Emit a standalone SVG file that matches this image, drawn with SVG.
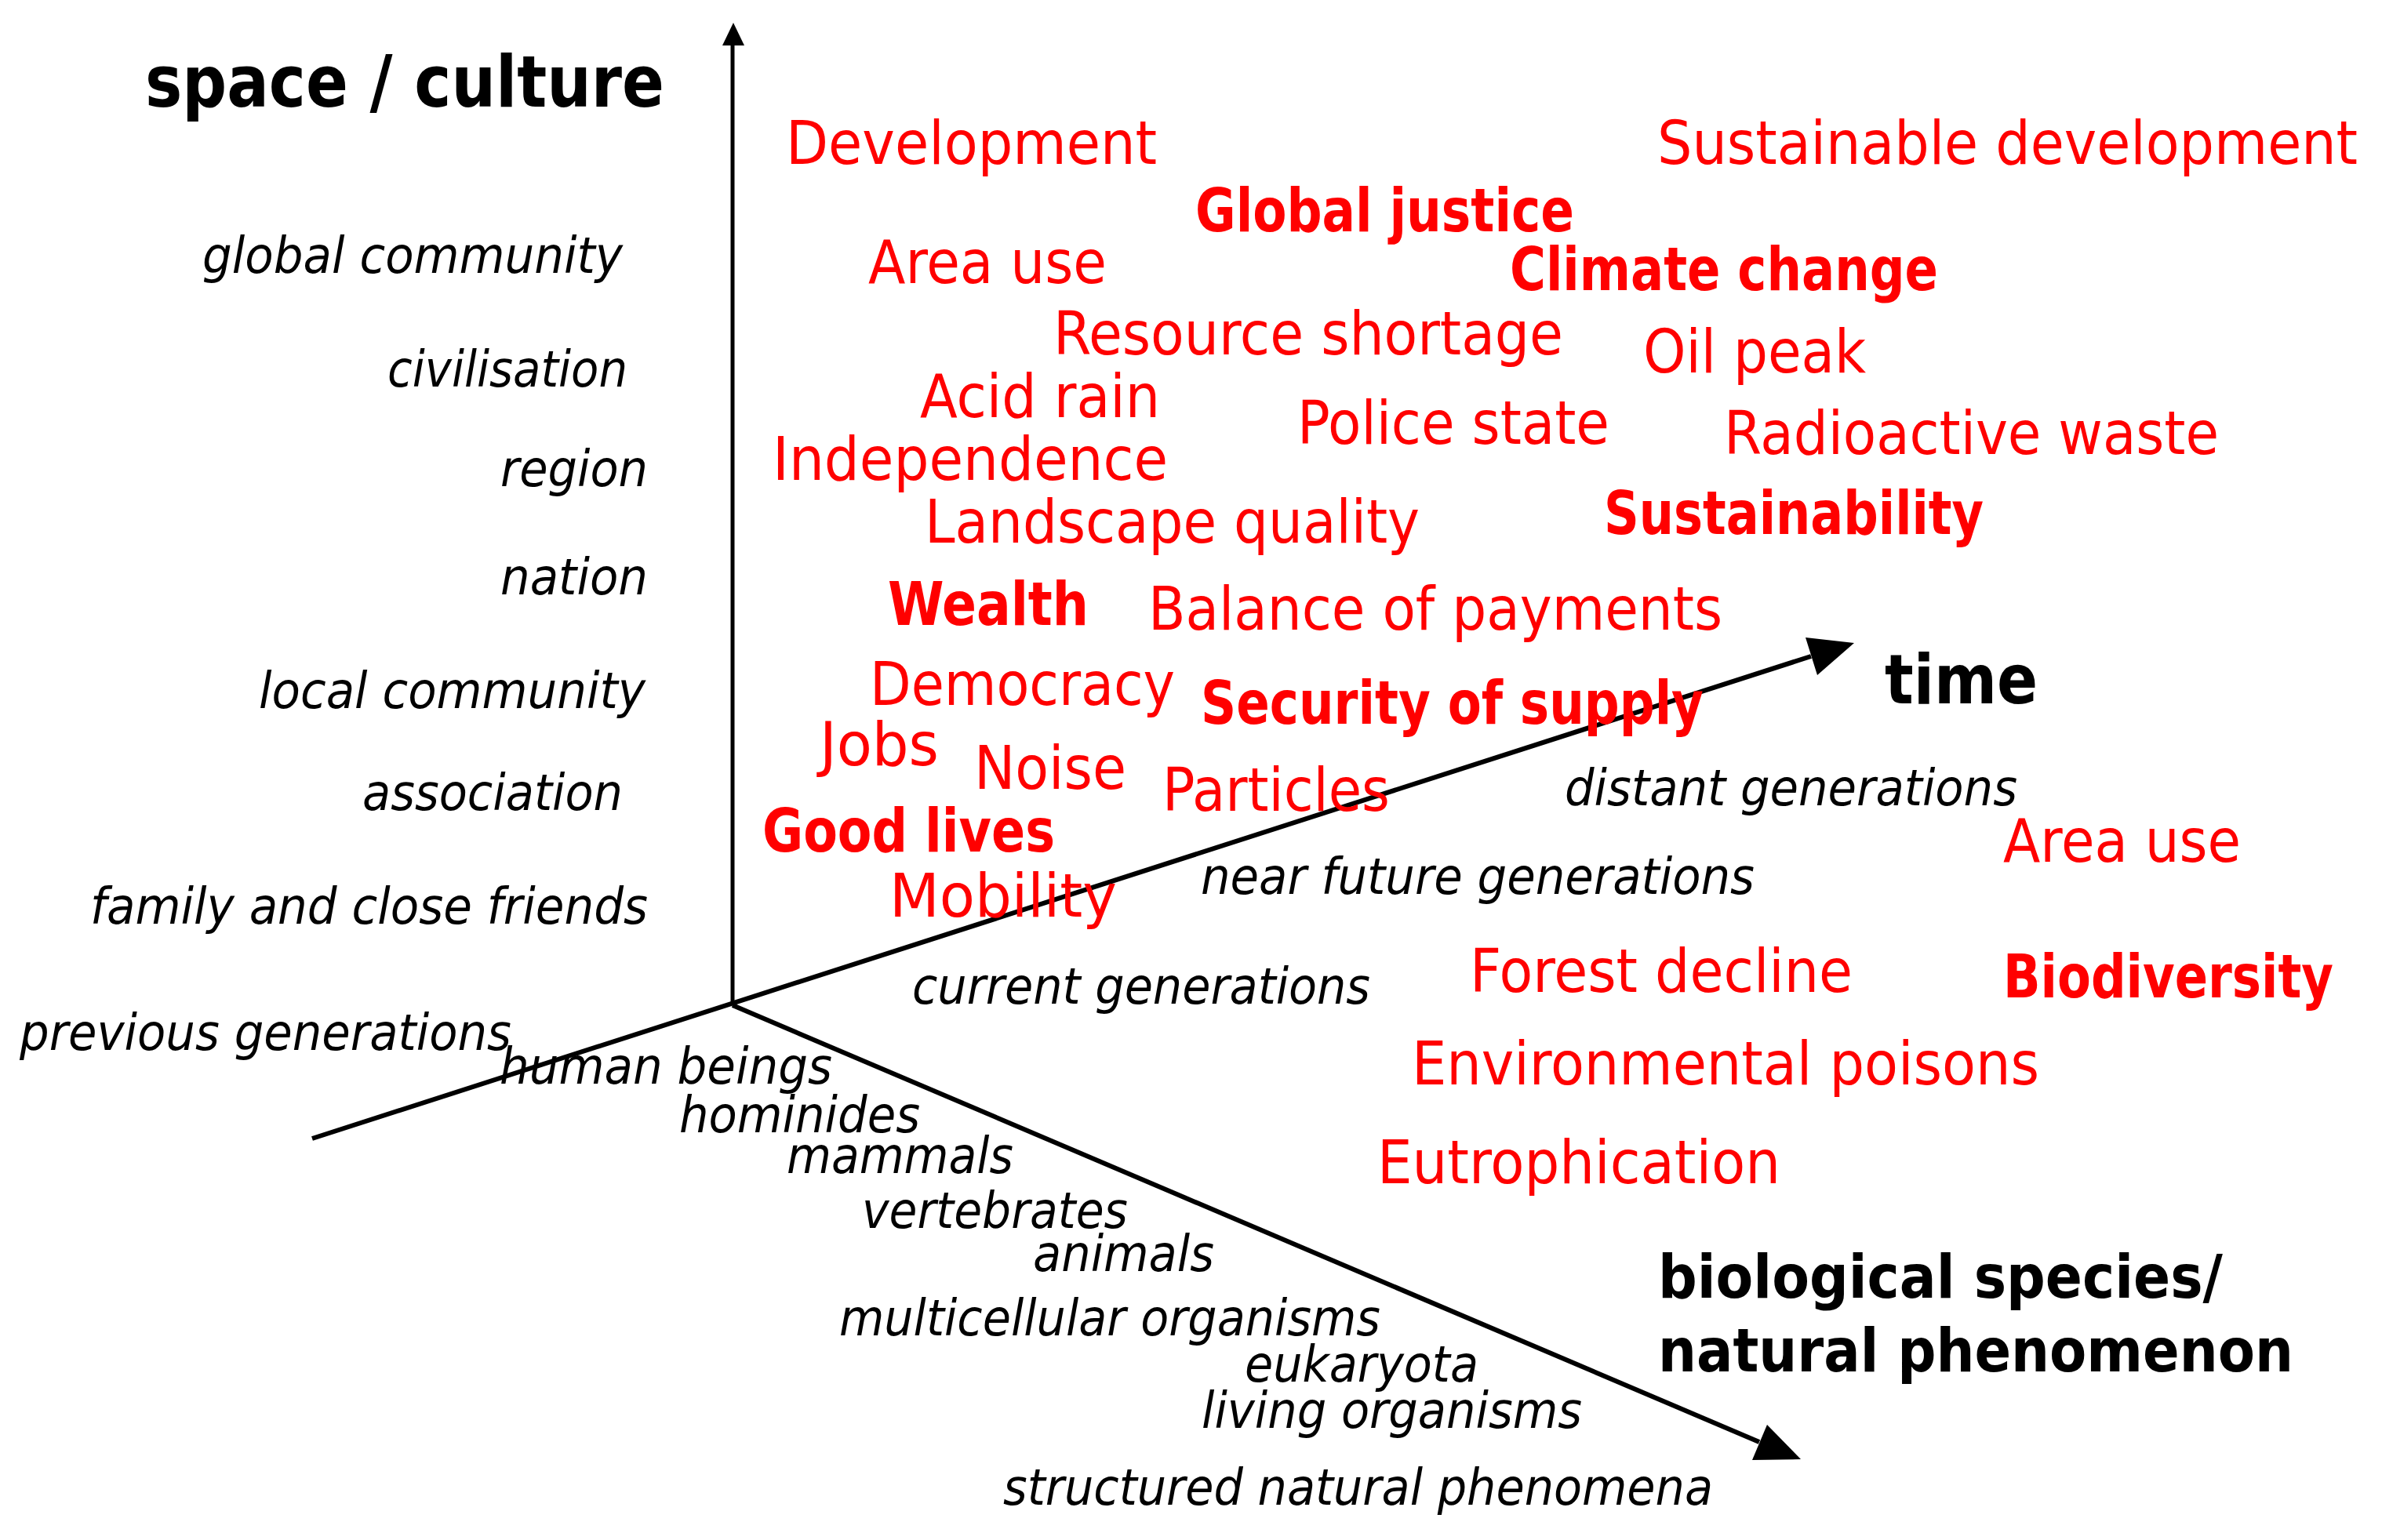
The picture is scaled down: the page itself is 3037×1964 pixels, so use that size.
<svg xmlns="http://www.w3.org/2000/svg" width="3037" height="1964" viewBox="0 0 3037 1964">
<style>
text { font-family: "DejaVu Sans", Verdana, sans-serif; font-stretch: condensed; }
.ax { font-weight: bold; fill: #000; }
.i { font-style: italic; font-size: 64px; fill: #000; }
.r { font-size: 76px; fill: #ff0000; }
.rb { font-size: 76px; fill: #ff0000; font-weight: bold; }
.axis { stroke: #000; stroke-width: 6; fill: none; }
.head { fill: #000; stroke: none; }
</style>
<rect width="3037" height="1964" fill="#fff"/>
<g id="connectors">
  <line class="axis" x1="934" y1="1282" x2="934" y2="52" style="stroke-width:5"/>
  <polygon class="head" points="935,29 921,58 949,58"/>
  <line class="axis" x1="398" y1="1452" x2="2309" y2="837"/>
  <polygon class="head" points="2364,820 2302,813 2317,861"/>
  <line class="axis" x1="934" y1="1282" x2="2243" y2="1839"/>
  <polygon class="head" points="2296,1861 2253,1817 2234,1862"/>
</g>
<g id="axis-labels">
  <g id="space-culture"><text class="ax" x="185" y="136" font-size="90" textLength="662" lengthAdjust="spacingAndGlyphs">space / culture</text></g>
  <g id="time"><text class="ax" x="2403" y="897" font-size="88" textLength="195" lengthAdjust="spacingAndGlyphs">time</text></g>
  <g id="biological"><text class="ax" x="2114" y="1655" font-size="76" textLength="720" lengthAdjust="spacingAndGlyphs">biological species/</text><text class="ax" x="2114" y="1749" font-size="76" textLength="810" lengthAdjust="spacingAndGlyphs">natural phenomenon</text></g>
</g>
<g id="space-scale">
  <g id="global-community"><text class="i" x="258" y="348" textLength="536" lengthAdjust="spacingAndGlyphs">global community</text></g>
  <g id="civilisation"><text class="i" x="494" y="493" textLength="306" lengthAdjust="spacingAndGlyphs">civilisation</text></g>
  <g id="region"><text class="i" x="638" y="620" textLength="188" lengthAdjust="spacingAndGlyphs">region</text></g>
  <g id="nation"><text class="i" x="638" y="758" textLength="188" lengthAdjust="spacingAndGlyphs">nation</text></g>
  <g id="local-community"><text class="i" x="330" y="903" textLength="493" lengthAdjust="spacingAndGlyphs">local community</text></g>
  <g id="association"><text class="i" x="462" y="1033" textLength="332" lengthAdjust="spacingAndGlyphs">association</text></g>
  <g id="family"><text class="i" x="115" y="1178" textLength="711" lengthAdjust="spacingAndGlyphs">family and close friends</text></g>
</g>
<g id="time-scale">
  <g id="previous-generations"><text class="i" x="25" y="1339" textLength="627" lengthAdjust="spacingAndGlyphs">previous generations</text></g>
  <g id="current-generations"><text class="i" x="1163" y="1280" textLength="584" lengthAdjust="spacingAndGlyphs">current generations</text></g>
  <g id="near-future-generations"><text class="i" x="1531" y="1140" textLength="706" lengthAdjust="spacingAndGlyphs">near future generations</text></g>
  <g id="distant-generations"><text class="i" x="1995" y="1027" textLength="577" lengthAdjust="spacingAndGlyphs">distant generations</text></g>
</g>
<g id="species-scale">
  <g id="human-beings"><text class="i" x="637" y="1382" textLength="424" lengthAdjust="spacingAndGlyphs">human beings</text></g>
  <g id="hominides"><text class="i" x="866" y="1444" textLength="307" lengthAdjust="spacingAndGlyphs">hominides</text></g>
  <g id="mammals"><text class="i" x="1003" y="1496" textLength="289" lengthAdjust="spacingAndGlyphs">mammals</text></g>
  <g id="vertebrates"><text class="i" x="1099" y="1566" textLength="339" lengthAdjust="spacingAndGlyphs">vertebrates</text></g>
  <g id="animals"><text class="i" x="1317" y="1621" textLength="231" lengthAdjust="spacingAndGlyphs">animals</text></g>
  <g id="multicellular"><text class="i" x="1070" y="1703" textLength="690" lengthAdjust="spacingAndGlyphs">multicellular organisms</text></g>
  <g id="eukaryota"><text class="i" x="1587" y="1762" textLength="298" lengthAdjust="spacingAndGlyphs">eukaryota</text></g>
  <g id="living-organisms"><text class="i" x="1532" y="1821" textLength="485" lengthAdjust="spacingAndGlyphs">living organisms</text></g>
  <g id="structured"><text class="i" x="1279" y="1919" textLength="905" lengthAdjust="spacingAndGlyphs">structured natural phenomena</text></g>
</g>
<g id="issues">
  <g id="development"><text class="r" x="1002" y="209" textLength="473" lengthAdjust="spacingAndGlyphs">Development</text></g>
  <g id="sustainable-development"><text class="r" x="2113" y="209" textLength="893" lengthAdjust="spacingAndGlyphs">Sustainable development</text></g>
  <g id="global-justice"><text class="rb" x="1524" y="295" textLength="483" lengthAdjust="spacingAndGlyphs">Global justice</text></g>
  <g id="area-use-1"><text class="r" x="1107" y="361" textLength="304" lengthAdjust="spacingAndGlyphs">Area use</text></g>
  <g id="climate-change"><text class="rb" x="1925" y="370" textLength="546" lengthAdjust="spacingAndGlyphs">Climate change</text></g>
  <g id="resource-shortage"><text class="r" x="1343" y="452" textLength="650" lengthAdjust="spacingAndGlyphs">Resource shortage</text></g>
  <g id="oil-peak"><text class="r" x="2095" y="475" textLength="284" lengthAdjust="spacingAndGlyphs">Oil peak</text></g>
  <g id="acid-rain"><text class="r" x="1173" y="532" textLength="306" lengthAdjust="spacingAndGlyphs">Acid rain</text></g>
  <g id="police-state"><text class="r" x="1654" y="566" textLength="398" lengthAdjust="spacingAndGlyphs">Police state</text></g>
  <g id="radioactive-waste"><text class="r" x="2198" y="579" textLength="631" lengthAdjust="spacingAndGlyphs">Radioactive waste</text></g>
  <g id="independence"><text class="r" x="985" y="612" textLength="504" lengthAdjust="spacingAndGlyphs">Independence</text></g>
  <g id="landscape-quality"><text class="r" x="1179" y="692" textLength="631" lengthAdjust="spacingAndGlyphs">Landscape quality</text></g>
  <g id="sustainability"><text class="rb" x="2045" y="681" textLength="484" lengthAdjust="spacingAndGlyphs">Sustainability</text></g>
  <g id="wealth"><text class="rb" x="1132" y="797" textLength="256" lengthAdjust="spacingAndGlyphs">Wealth</text></g>
  <g id="balance-of-payments"><text class="r" x="1464" y="803" textLength="732" lengthAdjust="spacingAndGlyphs">Balance of payments</text></g>
  <g id="democracy"><text class="r" x="1109" y="899" textLength="389" lengthAdjust="spacingAndGlyphs">Democracy</text></g>
  <g id="security-of-supply"><text class="rb" x="1531" y="923" textLength="641" lengthAdjust="spacingAndGlyphs">Security of supply</text></g>
  <g id="jobs"><text class="r" x="1045" y="976" textLength="152" lengthAdjust="spacingAndGlyphs">Jobs</text></g>
  <g id="noise"><text class="r" x="1242" y="1006" textLength="194" lengthAdjust="spacingAndGlyphs">Noise</text></g>
  <g id="particles"><text class="r" x="1482" y="1034" textLength="290" lengthAdjust="spacingAndGlyphs">Particles</text></g>
  <g id="good-lives"><text class="rb" x="972" y="1086" textLength="373" lengthAdjust="spacingAndGlyphs">Good lives</text></g>
  <g id="mobility"><text class="r" x="1134" y="1169" textLength="290" lengthAdjust="spacingAndGlyphs">Mobility</text></g>
  <g id="area-use-2"><text class="r" x="2554" y="1099" textLength="303" lengthAdjust="spacingAndGlyphs">Area use</text></g>
  <g id="forest-decline"><text class="r" x="1874" y="1265" textLength="488" lengthAdjust="spacingAndGlyphs">Forest decline</text></g>
  <g id="biodiversity"><text class="rb" x="2554" y="1272" textLength="421" lengthAdjust="spacingAndGlyphs">Biodiversity</text></g>
  <g id="environmental-poisons"><text class="r" x="1800" y="1383" textLength="800" lengthAdjust="spacingAndGlyphs">Environmental poisons</text></g>
  <g id="eutrophication"><text class="r" x="1756" y="1509" textLength="514" lengthAdjust="spacingAndGlyphs">Eutrophication</text></g>
</g>
</svg>
